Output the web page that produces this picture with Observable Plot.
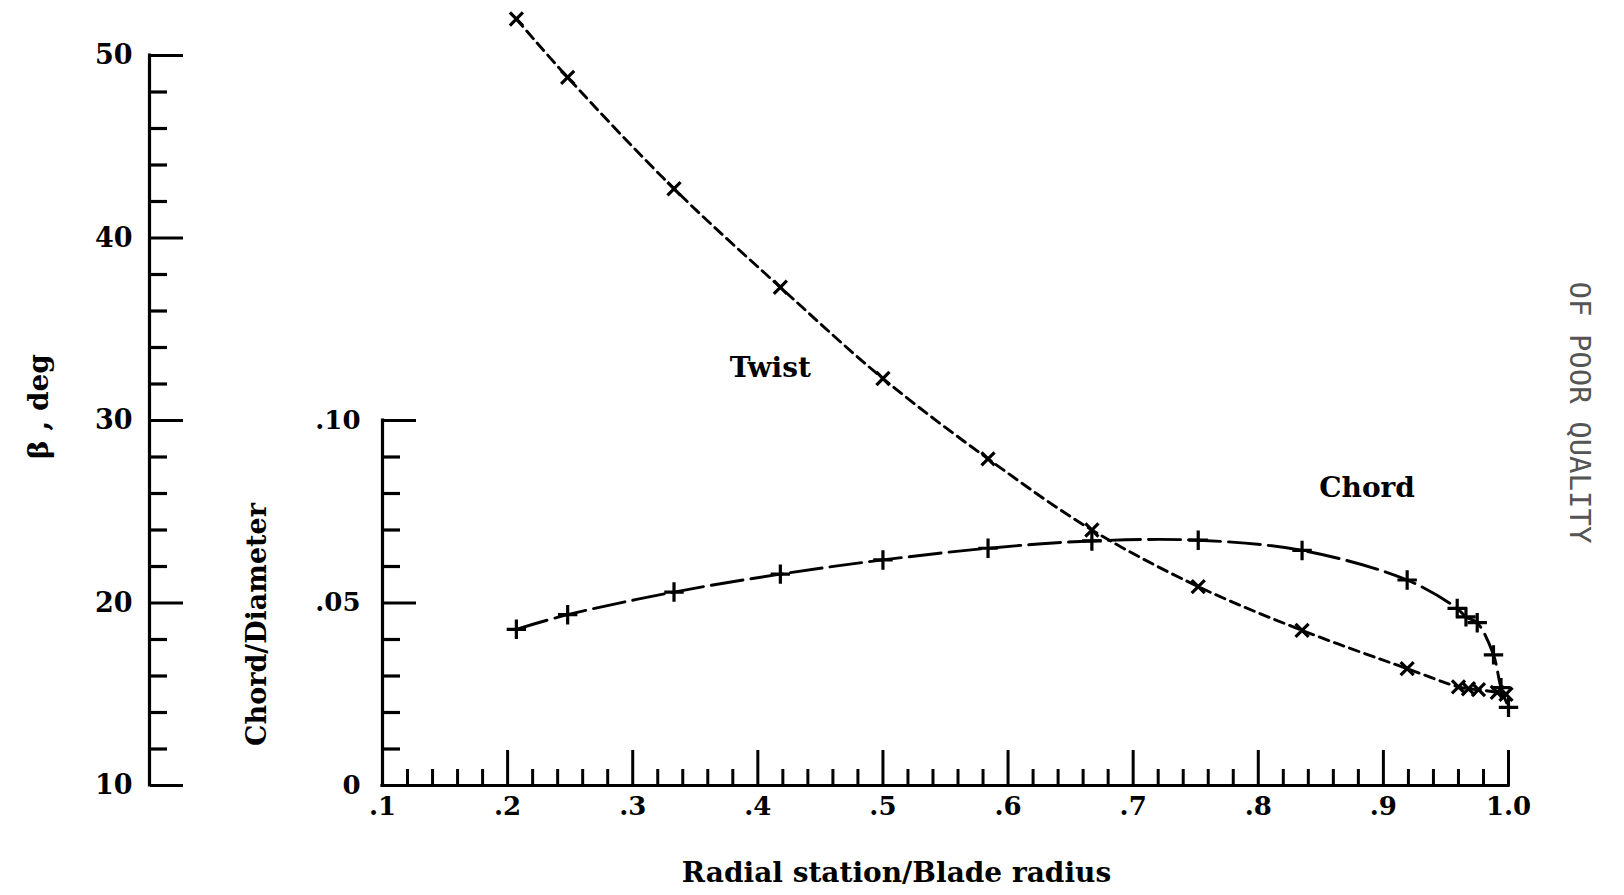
<!DOCTYPE html>
<html>
<head>
<meta charset="utf-8">
<script src="https://cdn.jsdelivr.net/npm/d3@7"></script>
<script src="https://cdn.jsdelivr.net/npm/@observablehq/plot@0.6"></script>
<style>
  html, body { margin: 0; padding: 0; background: #ffffff; }
  #chart svg { display: block; }
</style>
</head>
<body>
<div id="chart"></div>
<script>
// ---- Data ----
// Twist (beta, deg) vs radial station / blade radius
const twistR    = [0.207, 0.248, 0.333, 0.418, 0.500, 0.584, 0.667, 0.752, 0.835, 0.919, 0.960, 0.968, 0.976, 0.991, 0.998];
const twistBeta = [52.0, 48.8, 42.7, 37.3, 32.3, 27.9, 24.0, 20.9, 18.5, 16.4, 15.4, 15.3, 15.25, 15.1, 15.0];

// Chord / Diameter vs radial station / blade radius
const chordR  = [0.207, 0.248, 0.333, 0.418, 0.500, 0.584, 0.667, 0.752, 0.835, 0.919, 0.959, 0.966, 0.975, 0.988, 0.994, 1.000];
const chordCD = [0.0428, 0.0468, 0.0530, 0.0579, 0.0618, 0.0650, 0.0670, 0.0672, 0.0644, 0.0563, 0.0485, 0.0462, 0.0446, 0.0358, 0.0268, 0.0214];

// Tick values and labels
const betaMajor  = [10, 20, 30, 40, 50];
const betaMinor  = [12, 14, 16, 18, 22, 24, 26, 28, 32, 34, 36, 38, 42, 44, 46, 48];
const chordMajor = [0.05, 0.10];
const chordMinor = [0.01, 0.02, 0.03, 0.04, 0.06, 0.07, 0.08, 0.09];
const chordLabelTicks = [0, 0.05, 0.10];
const chordLabels = ["0", ".05", ".10"];
const xMajor  = [0.1, 0.2, 0.3, 0.4, 0.5, 0.6, 0.7, 0.8, 0.9, 1.0];
const xMinor  = [0.12, 0.14, 0.16, 0.18, 0.22, 0.24, 0.26, 0.28, 0.32, 0.34, 0.36, 0.38,
                 0.42, 0.44, 0.46, 0.48, 0.52, 0.54, 0.56, 0.58, 0.62, 0.64, 0.66, 0.68,
                 0.72, 0.74, 0.76, 0.78, 0.82, 0.84, 0.86, 0.88, 0.92, 0.94, 0.96, 0.98];
const xLabels = [".1", ".2", ".3", ".4", ".5", ".6", ".7", ".8", ".9", "1.0"];

// Curve labels
const curveNames = ["Twist", "Chord"];
const curveNameR = [0.410, 0.887];
const curveNameBeta = [32.85, 26.3];

const xTitle = "Radial station/Blade radius";
const betaTitle = "β , deg";
const chordTitle = "Chord/Diameter";
const stamp = "OF POOR QUALITY";

// The chord axis shares the plot's vertical scale: 0 ↔ 10 deg, .10 ↔ 30 deg
const chordToBeta = d3.scaleLinear().domain([0, 0.10]).range([10, 30]);

const W = 1624, H = 895;
const mL = 382, mR = 116, mT = 55, mB = 110;
const betaDx = -233;                 // beta axis sits left of the chord axis
const rightToLeft = -(W - mR - mL);  // move right-anchored ticks to the left frame edge

const font = "'DejaVu Serif', 'Liberation Serif', serif";
const lineW = 2.9;
const tickFont = 26;

const chart = Plot.plot({
  width: W,
  height: H,
  marginLeft: mL,
  marginRight: mR,
  marginTop: mT,
  marginBottom: mB,
  x: {domain: [0.1, 1.0], label: null},
  y: {domain: [10, 50], label: null},
  style: {fontFamily: font, fontWeight: "bold", fontSize: "26px", background: "#fff", color: "#000"},
  marks: [
    // ---- beta axis (far left) ----
    Plot.ruleX([0.1], {y1: d3.min(betaMajor), y2: d3.max(betaMajor), dx: betaDx, strokeWidth: 3.2, strokeLinecap: "square"}),
    Plot.axisY(betaMajor, {anchor: "right", tickSize: 33, dx: rightToLeft + betaDx, strokeWidth: 3.2, fill: null, label: null}),
    Plot.axisY(betaMinor, {anchor: "right", tickSize: 17, dx: rightToLeft + betaDx, strokeWidth: 3.2, fill: null, label: null}),
    Plot.axisY(betaMajor, {anchor: "left", tickSize: 0, tickPadding: 17, dx: betaDx, fontSize: 27, fontWeight: "bold", label: null}),

    // ---- chord axis ----
    Plot.ruleX([0.1], {y1: chordToBeta(0), y2: chordToBeta(0.10), strokeWidth: 3.2, strokeLinecap: "square"}),
    Plot.axisY(chordMajor.map(chordToBeta), {anchor: "right", tickSize: 33, dx: rightToLeft, strokeWidth: 3.2, fill: null, label: null}),
    Plot.axisY(chordMinor.map(chordToBeta), {anchor: "right", tickSize: 17, dx: rightToLeft, strokeWidth: 3.2, fill: null, label: null}),
    Plot.axisY(chordLabelTicks.map(chordToBeta), {anchor: "left", tickSize: 0, tickPadding: 22,
      tickFormat: (d, i) => chordLabels[i], fontSize: tickFont, fontWeight: "bold", label: null}),

    // ---- x axis ----
    Plot.ruleY([chordToBeta(0)], {x1: 0.1, x2: 1.0, strokeWidth: 3.2, strokeLinecap: "square"}),
    Plot.axisX(xMajor, {anchor: "top", tickSize: 36, dy: H - mB - mT, strokeWidth: 3, fill: null, label: null}),
    Plot.axisX(xMinor, {anchor: "top", tickSize: 17, dy: H - mB - mT, strokeWidth: 3, fill: null, label: null}),
    Plot.axisX(xMajor, {anchor: "bottom", tickSize: 0, tickPadding: 11,
      tickFormat: (d, i) => xLabels[i], fontSize: tickFont, fontWeight: "bold", label: null}),

    // ---- axis titles ----
    Plot.text([xTitle], {frameAnchor: "bottom", textAnchor: "middle", dx: -49, dy: 88, lineAnchor: "middle", fontSize: 28, fontWeight: "bold"}),
    Plot.text([betaTitle], {frameAnchor: "left", textAnchor: "middle", lineAnchor: "middle", rotate: -90, dx: -343, dy: -14, fontSize: 28, fontWeight: "bold"}),
    Plot.text([chordTitle], {frameAnchor: "left", textAnchor: "middle", lineAnchor: "middle", rotate: -90, dx: -125, dy: 204, fontSize: 27, fontWeight: "bold"}),

    // ---- twist curve ----
    Plot.line(twistR, {x: d => d, y: (d, i) => twistBeta[i], curve: "catmull-rom",
      stroke: "#000", strokeWidth: lineW, strokeDasharray: "10,6"}),
    Plot.dot(twistR, {x: d => d, y: (d, i) => twistBeta[i], symbol: "times", r: 6,
      stroke: "#000", strokeWidth: 3.2}),

    // ---- chord curve ----
    Plot.line(chordR, {x: d => d, y: (d, i) => chordToBeta(chordCD[i]), curve: "catmull-rom",
      stroke: "#000", strokeWidth: lineW, strokeDasharray: "32,8"}),
    Plot.dot(chordR, {x: d => d, y: (d, i) => chordToBeta(chordCD[i]), symbol: "plus", r: 6.3,
      stroke: "#000", strokeWidth: 3.2}),

    // ---- curve names ----
    Plot.text(curveNames, {x: (d, i) => curveNameR[i], y: (d, i) => curveNameBeta[i], text: d => d,
      fontSize: 28, fontWeight: "bold"}),

    // ---- scanned stamp on the right edge ----
    Plot.text([stamp], {frameAnchor: "top-right", rotate: 90, dx: 71, dy: 226, textAnchor: "start", lineAnchor: "middle",
      fontFamily: "'DejaVu Sans Mono', monospace", fontWeight: "normal", fontSize: 29, fill: "#555"})
  ]
});

document.getElementById("chart").appendChild(chart);
</script>
</body>
</html>
